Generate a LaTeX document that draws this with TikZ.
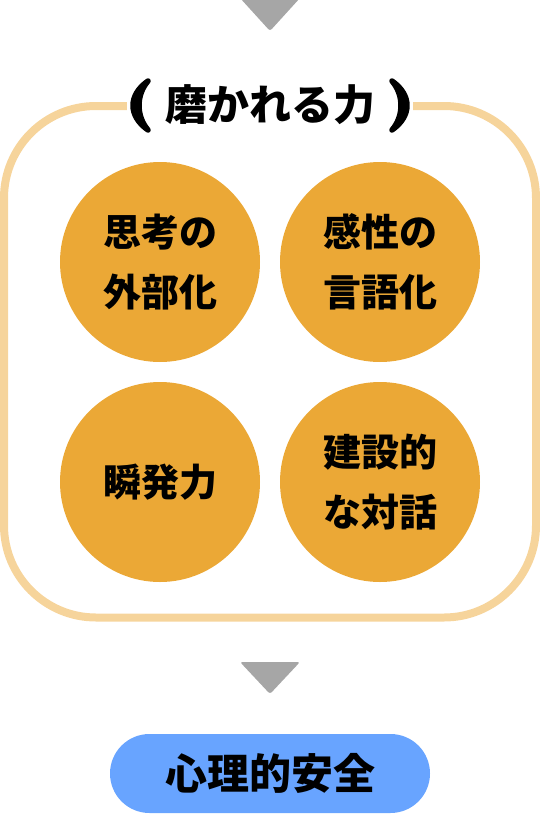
\documentclass[tikz,border=0pt]{standalone}
\usepackage{fontspec}
\newfontfamily\jp{Noto Sans CJK JP}
\definecolor{arrowgray}{RGB}{166,166,166}
\definecolor{framebeige}{RGB}{246,212,155}
\definecolor{skillorange}{RGB}{235,168,54}
\definecolor{goalblue}{RGB}{104,164,255}
\begin{document}
\begin{tikzpicture}[
        x=1pt, y=-1pt,
        pointer/.style={fill=arrowgray, rounded corners=2.5pt},
        frame/.style={draw=framebeige, line width=8pt, rounded corners=92pt},
        heading/.style={fill=white, minimum width=286pt, minimum height=24pt, inner sep=0pt, font=\jp\bfseries\fontsize{42}{50}\selectfont},
        paren/.style={fill=black, draw=black, line width=5.5pt, line cap=round, line join=round},
        skill/.style={circle, fill=skillorange, minimum size=200pt, inner sep=0pt, align=center, font=\jp\bfseries\fontsize{38}{60}\selectfont},
        goal/.style={fill=goalblue, rounded corners=39.5pt, minimum width=320pt, minimum height=79pt, inner sep=0pt, font=\jp\bfseries\fontsize{42}{50}\selectfont}
    ]
    \useasboundingbox (0,0) rectangle (540,814);

    \fill[pointer] (240,-2) -- (300,-2) -- (270,31) -- cycle;
    \draw[frame] (4,106) rectangle (536,617.5);
    \node[heading] (title) at (270,105) {磨かれる力};
    \path[paren] (148,81) .. controls (128,95) and (128,116) .. (148,130)
        .. controls (136,116) and (136,95) .. (148,81);
    \path[paren] (392,81) .. controls (412,95) and (412,116) .. (392,130)
        .. controls (404,116) and (404,95) .. (392,81);

    \node[skill] (think) at (160,262) {思考の\\外部化};
    \node[skill] (feel) at (380,262) {感性の\\言語化};
    \node[skill] (quick) at (160,482) {瞬発力};
    \node[skill] (talk) at (380,482) {建設的\\な対話};

    \fill[pointer] (240,662) -- (300,662) -- (270,694) -- cycle;
    \node[goal] (safety) at (270,773.5) {心理的安全};

\end{tikzpicture}
\end{document}
